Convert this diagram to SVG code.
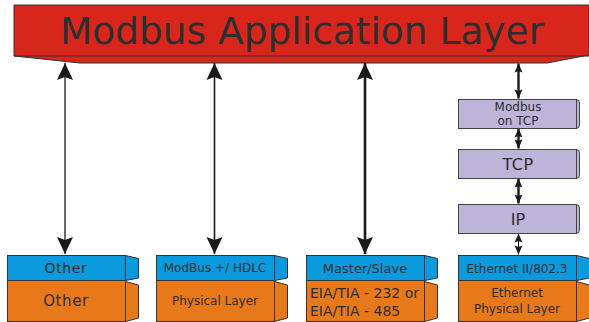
<svg xmlns="http://www.w3.org/2000/svg" width="589" height="322" viewBox="0 0 589 322">
<style>
text{font-family:"DejaVu Sans","Verdana",sans-serif;fill:#2e2e2e;text-anchor:middle}
.blue{fill:#0b9ade;stroke:#333;stroke-width:1}
.orange{fill:#e8791b;stroke:#333;stroke-width:1}
.purple{fill:#bdb4d9;stroke:#444;stroke-width:1}
.ln{fill:none;stroke:#1a1a1a}
</style>
<defs>
<marker id="big" markerUnits="userSpaceOnUse" markerWidth="18" markerHeight="16" refX="17" refY="8" orient="auto-start-reverse" overflow="visible">
<path d="M17,8 L0,0 L3,8 L0,16 Z" fill="#1a1a1a"/>
</marker>
<marker id="small" markerUnits="userSpaceOnUse" markerWidth="9" markerHeight="8" refX="9" refY="4" orient="auto-start-reverse" overflow="visible">
<path d="M9,4 L0,0 L1.5,4 L0,8 Z" fill="#1a1a1a"/>
</marker>
</defs>
<g id="app-layer">
<polygon points="14,5 589,5 589,55 547,63 80,63 14,56" fill="#d9261c" stroke="#333" stroke-width="1"/>
<line x1="14" y1="56" x2="589" y2="56" stroke="#333" stroke-width="1"/>
<text x="302" y="44" font-size="37.5" fill="#222">Modbus Application Layer</text>
</g>
<g id="connectors">
<line class="ln" x1="65" y1="63" x2="65" y2="254" stroke-width="1.3" marker-start="url(#big)" marker-end="url(#big)"/>
<line class="ln" x1="214.5" y1="63" x2="214.5" y2="254" stroke="#7a7a7a" stroke-width="1.6" marker-start="url(#big)" marker-end="url(#big)"/>
<line class="ln" x1="365" y1="63" x2="365" y2="254" stroke-width="2.6" marker-start="url(#big)" marker-end="url(#big)"/>
<line class="ln" x1="518.5" y1="63.5" x2="518.5" y2="98.5" stroke-width="2.4" marker-start="url(#small)" marker-end="url(#small)"/>
<line class="ln" x1="518.5" y1="128.5" x2="518.5" y2="148.5" stroke-width="2.4" marker-start="url(#small)" marker-end="url(#small)"/>
<line class="ln" x1="518.5" y1="178.5" x2="518.5" y2="203.5" stroke-width="2.4" marker-start="url(#small)" marker-end="url(#small)"/>
<line class="ln" x1="518.5" y1="233.5" x2="518.5" y2="254.5" stroke-width="1" marker-start="url(#small)" marker-end="url(#small)"/>
</g>
<g id="modbus-on-tcp">
<rect class="purple" x="458.5" y="99.5" width="118" height="29"/>
<path class="purple" d="M576.5,99.5 Q579.5,100 579.5,103 L579.5,125 Q579.5,128 576.5,128.5 Z"/>
<text x="518" y="111" font-size="12">Modbus</text>
<text x="518" y="125" font-size="12">on TCP</text>
</g>
<g id="tcp">
<rect class="purple" x="458.5" y="149.5" width="118" height="29"/>
<path class="purple" d="M576.5,149.5 Q579.5,150 579.5,153 L579.5,175 Q579.5,178 576.5,178.5 Z"/>
<text x="518" y="170" font-size="16" letter-spacing="0.5">TCP</text>
</g>
<g id="ip">
<rect class="purple" x="458.5" y="204.5" width="118" height="29"/>
<path class="purple" d="M576.5,204.5 Q579.5,205 579.5,208 L579.5,230 Q579.5,233 576.5,233.5 Z"/>
<text x="518" y="225" font-size="16">IP</text>
</g>
<g id="other">
<rect class="blue" x="7.5" y="255.5" width="118" height="25"/>
<polygon class="blue" points="125.5,255.5 138.5,258.5 138.5,278 125.5,280.5"/>
<rect class="orange" x="7.5" y="280.5" width="118" height="41"/>
<polygon class="orange" points="125.5,281.5 138.5,285 138.5,318 125.5,321.5"/>
<text x="66" y="273" font-size="14" letter-spacing="0.6">Other</text>
<text x="66" y="306" font-size="15" letter-spacing="0.6">Other</text>
</g>
<g id="hdlc">
<rect class="blue" x="156.5" y="255.5" width="118" height="25"/>
<polygon class="blue" points="274.5,255.5 287.5,258.5 287.5,278 274.5,280.5"/>
<rect class="orange" x="156.5" y="280.5" width="118" height="41"/>
<polygon class="orange" points="274.5,281.5 287.5,285 287.5,318 274.5,321.5"/>
<text x="215" y="272" font-size="12">ModBus +/ HDLC</text>
<text x="215" y="305" font-size="12">Physical Layer</text>
</g>
<g id="master-slave">
<rect class="blue" x="306.5" y="255.5" width="118" height="25"/>
<polygon class="blue" points="424.5,255.5 437.5,258.5 437.5,278 424.5,280.5"/>
<rect class="orange" x="306.5" y="280.5" width="118" height="41"/>
<polygon class="orange" points="424.5,281.5 437.5,285 437.5,318 424.5,321.5"/>
<text x="365" y="273" font-size="13">Master/Slave</text>
<text x="310" y="298" font-size="14" style="text-anchor:start">EIA/TIA - 232 or</text>
<text x="310" y="316" font-size="14" style="text-anchor:start">EIA/TIA - 485</text>
</g>
<g id="ethernet">
<rect class="blue" x="458.5" y="255.5" width="118" height="25"/>
<polygon class="blue" points="576.5,255.5 589.5,258.5 589.5,278 576.5,280.5"/>
<rect class="orange" x="458.5" y="280.5" width="118" height="41"/>
<polygon class="orange" points="576.5,281.5 589.5,285 589.5,318 576.5,321.5"/>
<text x="517" y="273" font-size="12">Ethernet II/802.3</text>
<text x="517" y="297" font-size="12">Ethernet</text>
<text x="517" y="313" font-size="12">Physical Layer</text>
</g>
</svg>
